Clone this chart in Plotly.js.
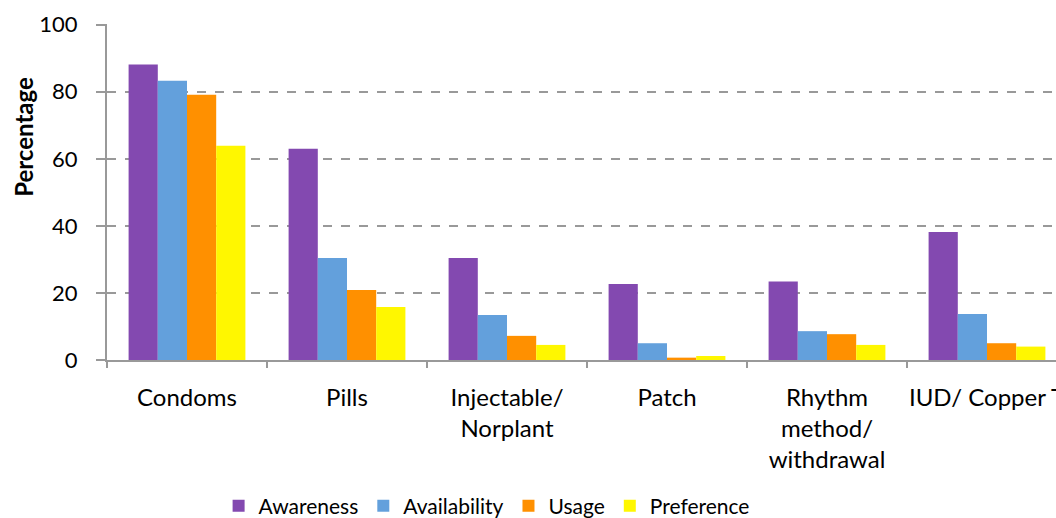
<!DOCTYPE html>
<html>
<head>
<meta charset="utf-8">
<script src="https://cdn.plot.ly/plotly-3.0.1.min.js"></script>
<style>
html,body{margin:0;padding:0;overflow:hidden;background:#fff;}
#chart{width:1056px;height:518px;}
</style>
</head>
<body>
<div id="chart"></div>
<script>
const categories = ["Condoms", "Pills", "Injectable/<br>Norplant", "Patch", "Rhythm<br>method/<br>withdrawal", "IUD/ Copper T"];
const awareness = [88.1, 63.0, 30.4, 22.7, 23.4, 38.2];
const availability = [83.3, 30.4, 13.4, 5.0, 8.6, 13.7];
const usage = [79.1, 20.9, 7.2, 0.7, 7.7, 5.0];
const preference = [63.9, 15.8, 4.5, 1.2, 4.5, 4.0];
const seriesNames = ["Awareness", "Availability", "Usage", "Preference"];
const colors = ["#8349B0", "#63A0DC", "#FF9000", "#FFF700"];
const yTicks = [0, 20, 40, 60, 80, 100];
const yTitle = "Percentage";

const values = [awareness, availability, usage, preference];
const traces = values.map((v, i) => ({
  type: "bar",
  name: seriesNames[i],
  x: categories,
  y: v,
  marker: {color: colors[i], line: {width: 0}},
  hoverinfo: "x+y+name"
}));

const font = "Lato, 'Open Sans', 'Liberation Sans', sans-serif";
const layout = {
  width: 1056,
  height: 518,
  margin: {l: 107, r: 0, t: 24, b: 158},
  paper_bgcolor: "#fff",
  plot_bgcolor: "#fff",
  barmode: "group",
  bargap: 0.27,
  bargroupgap: 0,
  font: {family: font, color: "#000"},
  showlegend: true,
  legend: {
    orientation: "h",
    xref: "container", yref: "container",
    x: 0.4608, xanchor: "center",
    y: 0.023, yanchor: "middle",
    font: {size: 21, family: font},
    itemwidth: 30,
    traceorder: "normal"
  },
  annotations: [{
    text: "<b>" + yTitle + "</b>",
    xref: "paper", yref: "paper",
    x: -0.0875, y: 0.664,
    xanchor: "center", yanchor: "middle",
    textangle: -90,
    showarrow: false,
    font: {size: 24, family: font, color: "#000"}
  }],
  xaxis: {
    type: "category",
    tickson: "boundaries",
    ticks: "outside",
    ticklen: 6,
    tickwidth: 2,
    tickcolor: "#999",
    showline: true,
    linecolor: "#999",
    linewidth: 2,
    showgrid: false,
    tickangle: 0,
    tickfont: {size: 24, family: font},
    ticklabelstandoff: 15,
    range: [-0.5, 5.43125],
    automargin: false
  },
  yaxis: {
    range: [0, 100.2],
    tickvals: yTicks,
    ticktext: yTicks.map(String),
    ticks: "outside",
    ticklen: 9,
    tickwidth: 2,
    tickcolor: "#999",
    ticklabelstandoff: 14,
    showline: true,
    linecolor: "#999",
    linewidth: 2,
    showgrid: true,
    gridcolor: "#999",
    gridwidth: 1.5,
    griddash: "dash",
    zeroline: false,
    tickfont: {size: 22, family: font},
    automargin: false
  }
};

Plotly.newPlot("chart", traces, layout, {displayModeBar: false, responsive: false});
</script>
</body>
</html>
